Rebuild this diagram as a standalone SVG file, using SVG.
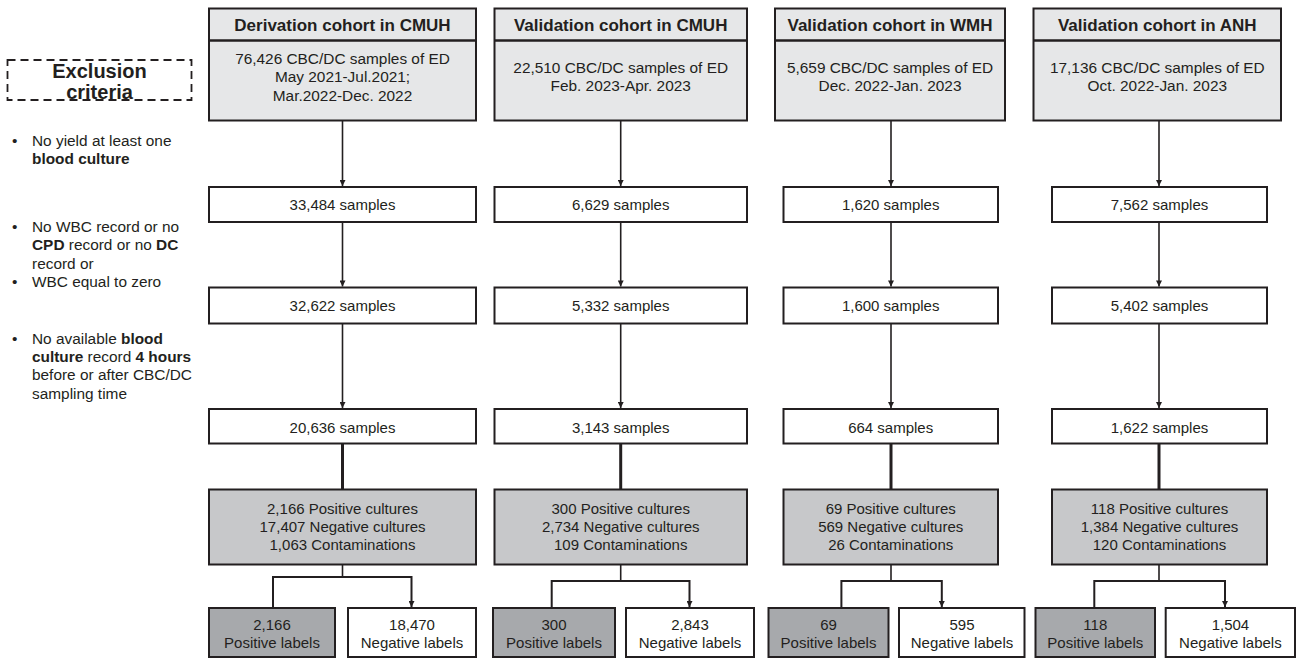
<svg xmlns="http://www.w3.org/2000/svg" width="1298" height="659" viewBox="0 0 1298 659">
<style>
  text { font-family: "Liberation Sans", Arial, sans-serif; font-size: 15px; fill: #231f20; text-anchor: middle; }
  .h { font-weight: bold; font-size: 17px; }
  .t { font-size: 15.4px; }
  .l { text-anchor: start; font-size: 15.4px; }
  .b { font-weight: bold; }
  .ex { font-weight: bold; font-size: 20px; }
  .box { stroke: #231f20; stroke-width: 2; }
  .top { fill: #e6e7e8; }
  .wh { fill: #ffffff; }
  .gr { fill: #c7c8ca; }
  .dk { fill: #a7a9ac; }
  .sep { stroke: #231f20; stroke-width: 2.6; }
  .c { stroke: #231f20; stroke-width: 1.6; fill: none; }
  .ca { stroke: #231f20; stroke-width: 1.6; fill: none; marker-end: url(#ah); }
  .ct { stroke: #231f20; stroke-width: 3; fill: none; }
  .cba { stroke: #231f20; stroke-width: 2; fill: none; marker-end: url(#ah); }
</style>
<defs>
  <marker id="ah" viewBox="0 0 10 10" refX="10" refY="5" markerWidth="7" markerHeight="6" markerUnits="userSpaceOnUse" orient="auto">
    <path d="M0,0 L10,5 L0,10 z" fill="#231f20"/>
  </marker>
</defs>
<rect width="1298" height="659" fill="#ffffff"/>

<!-- Exclusion criteria legend -->
<g id="exclusion">
  <rect x="7.5" y="60" width="184" height="40" fill="none" stroke="#231f20" stroke-width="1.8" stroke-dasharray="8 5"/>
  <text class="ex" x="99.5" y="78">Exclusion</text>
  <text class="ex" x="99.5" y="98.5">criteria</text>
</g>
<g id="criteria1">
  <text class="l" x="12" y="146">•</text>
  <text class="l" x="32" y="146">No yield at least one</text>
  <text class="l b" x="32" y="164">blood culture</text>
</g>
<g id="criteria2">
  <text class="l" x="12" y="232">•</text>
  <text class="l" x="32" y="232">No WBC record or no</text>
  <text class="l" x="32" y="250"><tspan class="b">CPD</tspan> record or no <tspan class="b">DC</tspan></text>
  <text class="l" x="32" y="268.5">record or</text>
  <text class="l" x="12" y="287">•</text>
  <text class="l" x="32" y="287">WBC equal to zero</text>
</g>
<g id="criteria3">
  <text class="l" x="12" y="343.5">•</text>
  <text class="l" x="32" y="343.5">No available <tspan class="b">blood</tspan></text>
  <text class="l" x="32" y="362"><tspan class="b">culture</tspan> record <tspan class="b">4 hours</tspan></text>
  <text class="l" x="32" y="380">before or after CBC/DC</text>
  <text class="l" x="32" y="398.5">sampling time</text>
</g>

<!-- Connectors -->
<g id="connectors">
  <!-- column 1 -->
  <line class="ca" x1="342.5" y1="121" x2="342.5" y2="186"/>
  <line class="ca" x1="342.5" y1="222" x2="342.5" y2="286.5"/>
  <line class="ca" x1="342.5" y1="324" x2="342.5" y2="408"/>
  <line class="ct" x1="342.5" y1="444" x2="342.5" y2="489"/>
  <line class="c" x1="342.5" y1="565" x2="342.5" y2="577"/>
  <polyline class="cba" points="273,607 273,577 411.5,577 411.5,607"/>
  <!-- column 2 -->
  <line class="ca" x1="620.7" y1="121" x2="620.7" y2="186"/>
  <line class="ca" x1="620.7" y1="222" x2="620.7" y2="286.5"/>
  <line class="ca" x1="620.7" y1="324" x2="620.7" y2="408"/>
  <line class="ct" x1="620.7" y1="444" x2="620.7" y2="489"/>
  <line class="c" x1="620.7" y1="565" x2="620.7" y2="581"/>
  <polyline class="cba" points="551.7,607 551.7,581 689.5,581 689.5,607"/>
  <!-- column 3 -->
  <line class="ca" x1="891" y1="121" x2="891" y2="186"/>
  <line class="ca" x1="891" y1="222" x2="891" y2="286.5"/>
  <line class="ca" x1="891" y1="324" x2="891" y2="408"/>
  <line class="ct" x1="891" y1="444" x2="891" y2="489"/>
  <line class="c" x1="891" y1="565" x2="891" y2="581"/>
  <polyline class="cba" points="841.4,607 841.4,581 941.8,581 941.8,607"/>
  <!-- column 4 -->
  <line class="ca" x1="1159" y1="121" x2="1159" y2="186"/>
  <line class="ca" x1="1159" y1="222" x2="1159" y2="286.5"/>
  <line class="ca" x1="1159" y1="324" x2="1159" y2="408"/>
  <line class="ct" x1="1159" y1="444" x2="1159" y2="489"/>
  <line class="c" x1="1159" y1="565" x2="1159" y2="581"/>
  <polyline class="cba" points="1094.3,607 1094.3,581 1225,581 1225,607"/>
</g>

<!-- Column 1: Derivation cohort in CMUH -->
<g id="c1-top">
  <rect class="box top" x="209" y="8.5" width="267" height="112"/>
  <line class="sep" x1="209" y1="40.5" x2="476" y2="40.5"/>
  <text class="h" x="342.5" y="30.7">Derivation cohort in CMUH</text>
  <text class="t" x="342.5" y="64">76,426 CBC/DC samples of ED</text>
  <text class="t" x="342.5" y="82.3">May 2021-Jul.2021;</text>
  <text class="t" x="342.5" y="100.6">Mar.2022-Dec. 2022</text>
</g>
<g id="c1-s1"><rect class="box wh" x="209" y="187" width="267" height="35"/><text x="342.5" y="210">33,484 samples</text></g>
<g id="c1-s2"><rect class="box wh" x="209" y="287.5" width="267" height="36"/><text x="342.5" y="310.5">32,622 samples</text></g>
<g id="c1-s3"><rect class="box wh" x="209" y="409" width="267" height="34.5"/><text x="342.5" y="432.5">20,636 samples</text></g>
<g id="c1-cult">
  <rect class="box gr" x="209" y="489.5" width="267" height="75"/>
  <text x="342.5" y="513.5">2,166 Positive cultures</text>
  <text x="342.5" y="532">17,407 Negative cultures</text>
  <text x="342.5" y="550.3">1,063 Contaminations</text>
</g>
<g id="c1-pos"><rect class="box dk" x="209" y="608" width="126" height="49"/><text x="272" y="630">2,166</text><text x="272" y="648">Positive labels</text></g>
<g id="c1-neg"><rect class="box wh" x="348" y="608" width="128" height="49"/><text x="412" y="630">18,470</text><text x="412" y="648">Negative labels</text></g>

<!-- Column 2: Validation cohort in CMUH -->
<g id="c2-top">
  <rect class="box top" x="494.5" y="8.5" width="252.5" height="112"/>
  <line class="sep" x1="494.5" y1="40.5" x2="747" y2="40.5"/>
  <text class="h" x="620.7" y="30.7">Validation cohort in CMUH</text>
  <text class="t" x="620.7" y="72.7">22,510 CBC/DC samples of ED</text>
  <text class="t" x="620.7" y="91">Feb. 2023-Apr. 2023</text>
</g>
<g id="c2-s1"><rect class="box wh" x="494.5" y="187" width="252.5" height="35"/><text x="620.7" y="210">6,629 samples</text></g>
<g id="c2-s2"><rect class="box wh" x="494.5" y="287.5" width="252.5" height="36"/><text x="620.7" y="310.5">5,332 samples</text></g>
<g id="c2-s3"><rect class="box wh" x="494.5" y="409" width="252.5" height="34.5"/><text x="620.7" y="432.5">3,143 samples</text></g>
<g id="c2-cult">
  <rect class="box gr" x="494.5" y="489.5" width="252.5" height="75"/>
  <text x="620.7" y="513.5">300 Positive cultures</text>
  <text x="620.7" y="532">2,734 Negative cultures</text>
  <text x="620.7" y="550.3">109 Contaminations</text>
</g>
<g id="c2-pos"><rect class="box dk" x="493" y="608" width="122" height="49"/><text x="554" y="630">300</text><text x="554" y="648">Positive labels</text></g>
<g id="c2-neg"><rect class="box wh" x="626" y="608" width="128" height="49"/><text x="690" y="630">2,843</text><text x="690" y="648">Negative labels</text></g>

<!-- Column 3: Validation cohort in WMH -->
<g id="c3-top">
  <rect class="box top" x="775" y="8.5" width="230" height="112"/>
  <line class="sep" x1="775" y1="40.5" x2="1005" y2="40.5"/>
  <text class="h" x="890" y="30.7">Validation cohort in WMH</text>
  <text class="t" x="890" y="72.7">5,659 CBC/DC samples of ED</text>
  <text class="t" x="890" y="91">Dec. 2022-Jan. 2023</text>
</g>
<g id="c3-s1"><rect class="box wh" x="783.5" y="187" width="214.5" height="35"/><text x="890.7" y="210">1,620 samples</text></g>
<g id="c3-s2"><rect class="box wh" x="783.5" y="287.5" width="214.5" height="36"/><text x="890.7" y="310.5">1,600 samples</text></g>
<g id="c3-s3"><rect class="box wh" x="783.5" y="409" width="214.5" height="34.5"/><text x="890.7" y="432.5">664 samples</text></g>
<g id="c3-cult">
  <rect class="box gr" x="783.5" y="489.5" width="214.5" height="75"/>
  <text x="890.7" y="513.5">69 Positive cultures</text>
  <text x="890.7" y="532">569 Negative cultures</text>
  <text x="890.7" y="550.3">26 Contaminations</text>
</g>
<g id="c3-pos"><rect class="box dk" x="768.5" y="608" width="120" height="49"/><text x="828.5" y="630">69</text><text x="828.5" y="648">Positive labels</text></g>
<g id="c3-neg"><rect class="box wh" x="899" y="608" width="125.5" height="49"/><text x="962" y="630">595</text><text x="962" y="648">Negative labels</text></g>

<!-- Column 4: Validation cohort in ANH -->
<g id="c4-top">
  <rect class="box top" x="1033.5" y="8.5" width="247.5" height="112"/>
  <line class="sep" x1="1033.5" y1="40.5" x2="1281" y2="40.5"/>
  <text class="h" x="1157.3" y="30.7">Validation cohort in ANH</text>
  <text class="t" x="1157.3" y="72.7">17,136 CBC/DC samples of ED</text>
  <text class="t" x="1157.3" y="91">Oct. 2022-Jan. 2023</text>
</g>
<g id="c4-s1"><rect class="box wh" x="1052" y="187" width="215" height="35"/><text x="1159.5" y="210">7,562 samples</text></g>
<g id="c4-s2"><rect class="box wh" x="1052" y="287.5" width="215" height="36"/><text x="1159.5" y="310.5">5,402 samples</text></g>
<g id="c4-s3"><rect class="box wh" x="1052" y="409" width="215" height="34.5"/><text x="1159.5" y="432.5">1,622 samples</text></g>
<g id="c4-cult">
  <rect class="box gr" x="1052" y="489.5" width="215" height="75"/>
  <text x="1159.5" y="513.5">118 Positive cultures</text>
  <text x="1159.5" y="532">1,384 Negative cultures</text>
  <text x="1159.5" y="550.3">120 Contaminations</text>
</g>
<g id="c4-pos"><rect class="box dk" x="1035.5" y="608" width="119.5" height="49"/><text x="1095.3" y="630">118</text><text x="1095.3" y="648">Positive labels</text></g>
<g id="c4-neg"><rect class="box wh" x="1165.7" y="608" width="129.3" height="49"/><text x="1230.4" y="630">1,504</text><text x="1230.4" y="648">Negative labels</text></g>
</svg>
